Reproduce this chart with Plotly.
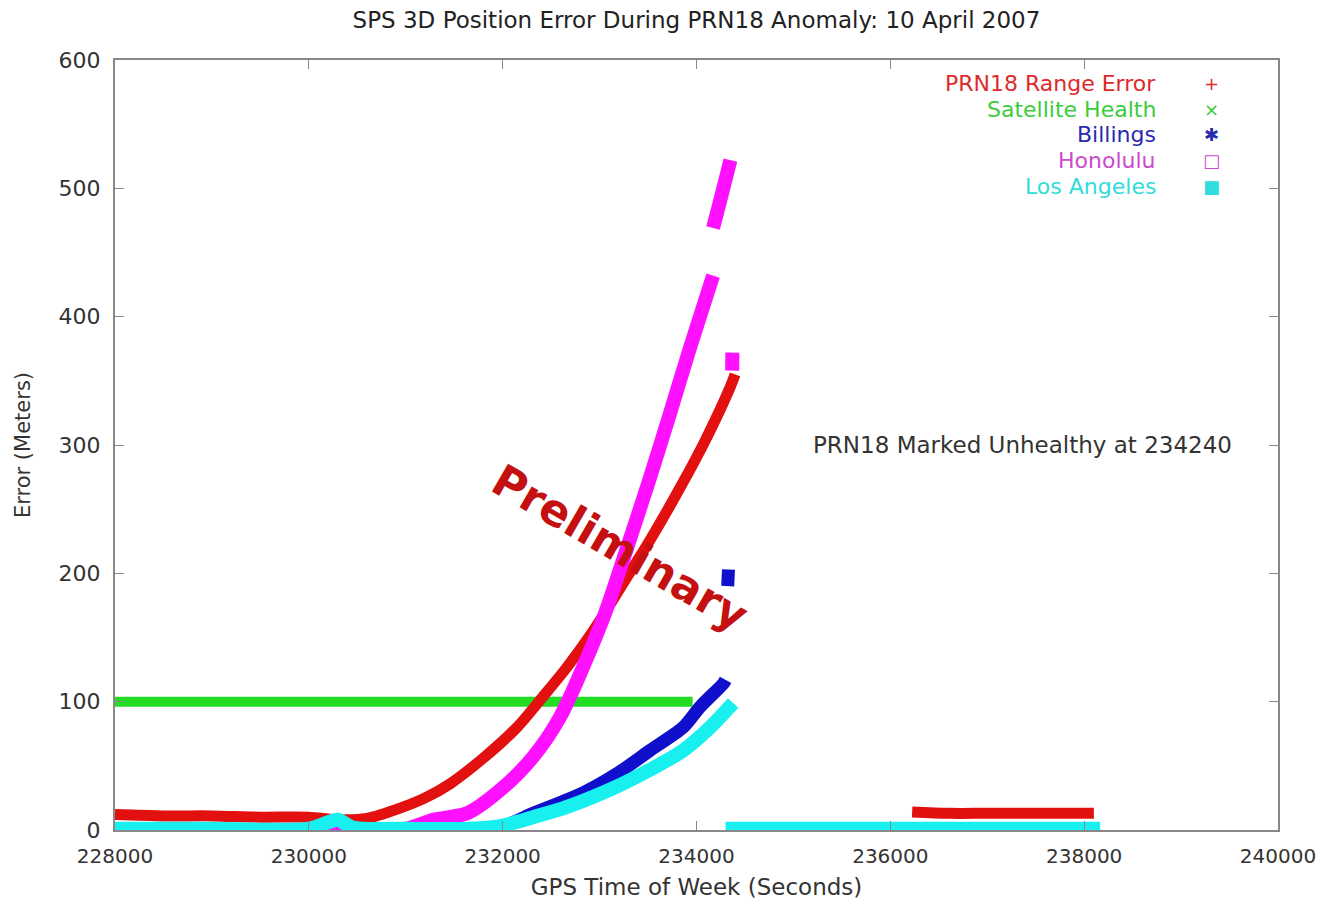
import plotly.graph_objects as go

# ---------------- data ----------------
health_x = [228000, 233960]
health_y = [100, 100]

range_err_x = [228000, 228500, 229000, 229500, 230000, 230300, 230600, 230941, 231200,
               231457, 231800, 232148, 232417, 232665, 232933, 233315, 233521, 233862,
               234100, 234347, 234398, None,
               236225, 236600, 237000, 237500, 238100]
range_err_y = [12, 11, 11, 10, 10, 8, 9, 17, 25,
               36, 56, 80, 104, 127, 155, 201, 226, 271,
               305, 345, 355, None,
               14, 13, 13, 13, 13]

billings_x = [228000, 231500, 232000, 232314, 232830, 233181, 233521, 233862, 234037,
              234275, 234300, None,
              234322, 234330, None,
              234330, 236300]
billings_y = [0, 0, 3, 13, 29, 44, 62, 80, 96,
              114, 117, None,
              190, 203, None,
              0, 0]

honolulu_x = [228000, 229500, 231000, 231282, 231633, 231973, 232314, 232592, 232830,
              233057, 233284, 233501, 233708, 233934, 234171, None,
              234171, 234260, 234350, None,
              234368, 234370]
honolulu_y = [0, 0, 1, 8, 13, 31, 57, 88, 127,
              169, 220, 270, 320, 376, 432, None,
              469, 495, 522, None,
              358, 372]

la_x = [228000, 229000, 230000, 230200, 230300, 230450, 231000, 231660, 231973, 232314,
        232665, 233181, 233521, 233862, 234140, 234378, None,
        234300, 235000, 236000, 237000, 238165]
la_y = [1, 1, 1, 6, 8, 2, 1, 1, 3, 10,
        18, 34, 47, 62, 80, 99, None,
        1, 1, 1, 1, 1]

legend_names = ["PRN18 Range Error", "Satellite Health", "Billings", "Honolulu", "Los Angeles"]
legend_symbols = ["+", "×", "✱", "□", "■"]

x_ticks = [228000, 230000, 232000, 234000, 236000, 238000, 240000]
y_ticks = [0, 100, 200, 300, 400, 500, 600]

# ---------------- styling ----------------
RED = "#e31010"
GREEN = "#22dd22"
BLUE = "#1010cc"
MAGENTA = "#ff10ff"
CYAN = "#18f0f0"
FONT = "DejaVu Sans"
TXT = "#333333"

fig = go.Figure()

series = [
    (health_x, health_y, GREEN, 10, "Satellite Health"),
    (range_err_x, range_err_y, RED, 11, "PRN18 Range Error"),
    (billings_x, billings_y, BLUE, 13, "Billings"),
    (honolulu_x, honolulu_y, MAGENTA, 14, "Honolulu"),
    (la_x, la_y, CYAN, 14, "Los Angeles"),
]
for xs, ys, col, w, name in series:
    fig.add_trace(go.Scatter(x=xs, y=ys, mode="lines", name=name,
                             line=dict(color=col, width=w, shape="spline", smoothing=0.8),
                             connectgaps=False, showlegend=False))

# legend drawn as text (label right-aligned, symbol to the right as in the reference)
legend_colors = ["#dd2a2a", "#3ccc3c", "#2a2ab0", "#cc4acc", "#30dcdc"]
row_y = [0.969, 0.936, 0.903, 0.870, 0.836]
for name, sym, col, yy in zip(legend_names, legend_symbols, legend_colors, row_y):
    fig.add_annotation(x=0.897, y=yy, xref="paper", yref="paper", text=name,
                       showarrow=False, xanchor="right", yanchor="middle",
                       font=dict(family=FONT, size=22, color=col))
    fig.add_annotation(x=0.943, y=yy, xref="paper", yref="paper", text=sym,
                       showarrow=False, xanchor="center", yanchor="middle",
                       font=dict(family=FONT, size=18, color=col))

fig.add_annotation(x=235180, y=300, text="PRN18 Marked Unhealthy at 234240",
                   showarrow=False, xanchor="left", yanchor="middle",
                   font=dict(family=FONT, size=23, color=TXT))

fig.add_annotation(x=233212, y=220, text="<b>Preliminary</b>", showarrow=False,
                   textangle=30, xanchor="center", yanchor="middle",
                   font=dict(family=FONT, size=44, color="#c41010"))

axis_common = dict(showline=True, linecolor="#888888", linewidth=2, mirror="ticks",
                   ticks="inside", ticklen=9, tickcolor="#888888", tickwidth=1,
                   showgrid=False, zeroline=False, automargin=False,
                   ticklabeloverflow="allow")

fig.update_xaxes(range=[228000, 240000], tickvals=x_ticks,
                 ticktext=[str(v) for v in x_ticks], ticklabelstandoff=7,
                 tickfont=dict(family=FONT, size=20, color=TXT),
                 title=dict(text="GPS Time of Week (Seconds)", standoff=12,
                            font=dict(family=FONT, size=23, color=TXT)),
                 **axis_common)
fig.update_yaxes(range=[0, 600], tickvals=y_ticks,
                 ticktext=[str(v) for v in y_ticks], ticklabelstandoff=8,
                 tickfont=dict(family=FONT, size=22, color=TXT),
                 title=dict(text="Error (Meters)", standoff=22,
                            font=dict(family=FONT, size=21, color=TXT)),
                 **axis_common)

# page body has an 8px default margin, so the figure is sized to fit the window
fig.update_layout(
    width=1309, height=894,
    margin=dict(l=107, r=39, t=52, b=72),
    paper_bgcolor="white", plot_bgcolor="white",
    title=dict(text="SPS 3D Position Error During PRN18 Anomaly: 10 April 2007",
               x=0.5, xref="paper", y=0.987, yref="container", yanchor="middle",
               font=dict(family=FONT, size=23, color="#222222")),
    showlegend=False,
)

fig.write_html("out.html")
